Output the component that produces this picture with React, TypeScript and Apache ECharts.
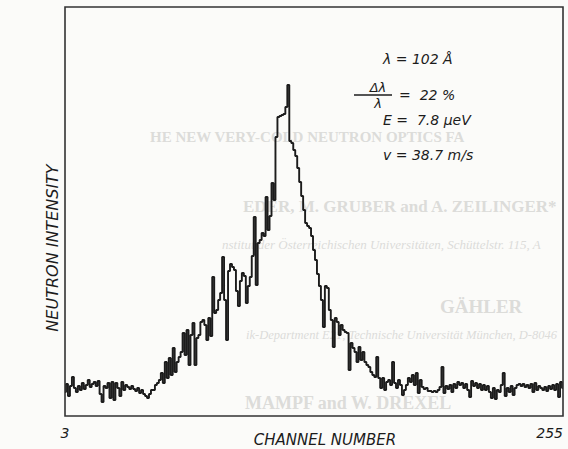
import React, { useEffect, useRef } from "react";
import * as echarts from "echarts";

// Channel range (x axis)
const channelStart = 3;
const channelEnd = 255;
const xTickLabels = ["3", "255"];
const xAxisTitle = "CHANNEL NUMBER";
const yAxisTitle = "NEUTRON INTENSITY";

// Neutron counts per channel (arbitrary units)
const leftBaseline = [
  24, 32, 20, 30, 39, 28, 24, 30, 26, 33, 27, 31, 36, 29, 32, 34, 30, 35, 22, 14,
  30, 28, 33, 18, 34, 16, 33, 28, 20, 34, 26, 31, 29, 27, 30, 27, 25, 28, 23, 26,
  22, 20, 18, 22, 26,
];
const risingFlank = [
  26, 31, 33, 36, 43, 33, 54, 38, 58, 41, 68, 44, 54, 59, 64, 83, 61, 86, 51, 81,
  93, 51, 78, 81, 94, 96, 91, 76, 98, 80, 139, 103, 106, 116, 123, 159, 116, 76, 145, 152,
  149, 146, 125, 110, 135, 143, 140, 113, 130, 139, 160, 199, 131, 173, 176, 183, 180, 219, 186, 200,
  233, 216,
];
const peakRegion = [
  279, 299, 300, 301, 302, 309, 331, 275, 273, 266, 260, 248, 234, 220, 206, 193, 190, 188, 180, 166,
  156, 142, 130, 116,
];
const fallingFlank = [
  89, 130, 128, 106, 96, 69, 98, 94, 81, 91, 86, 84, 83, 46, 73, 68, 64, 54, 69, 56,
  64, 54, 51, 49, 44, 41, 39, 59, 38,
];
const rightBaseline = [
  28, 38, 26, 34, 36, 31, 54, 33, 28, 36, 31, 21, 26, 31, 38, 34, 41, 31, 43, 23,
  36, 29, 27, 28, 25, 25, 24, 25, 24, 26, 29, 49, 23, 30, 27, 31, 24, 32, 28, 34,
  31, 33, 28, 32, 26, 19, 35, 30, 33, 28, 32, 26, 31, 26, 30, 24, 18, 28, 17, 26,
  24, 31, 43, 20, 28, 24, 30, 21, 28, 31, 32, 30, 32, 29, 31, 28, 32, 24, 33, 26,
  30, 28, 26, 29, 25, 30, 27, 31, 26, 32, 19, 34, 28,
];

// Annotation texts
const annLambda = "λ = 102 Å";
const annDeltaNum = "Δλ";
const annDeltaDen = "λ";
const annDeltaVal = "=  22 %";
const annEnergy = "E =  7.8 μeV";
const annVelocity = "v = 38.7 m/s";

// Faint bleed-through text of the scanned page
const ghostLines = [
  { t: "HE NEW VERY-COLD NEUTRON OPTICS FA", x: 150, y: 138.5, s: 15, w: "bold", i: "normal" },
  { t: "EDER, M. GRUBER and A. ZEILINGER*", x: 243, y: 208, s: 17, w: "bold", i: "normal" },
  { t: "nstitut der Österreichischen Universitäten, Schüttelstr. 115, A", x: 222, y: 246, s: 13, w: "normal", i: "italic" },
  { t: "GÄHLER", x: 440, y: 308, s: 19, w: "bold", i: "normal" },
  { t: "ik-Department E21, Technische Universität München, D-8046", x: 246, y: 337, s: 12.5, w: "normal", i: "italic" },
  { t: "MAMPF and W. DREXEL", x: 245, y: 405, s: 18, w: "bold", i: "normal" },
];

export default function App() {
  const ref = useRef<HTMLDivElement>(null);

  useEffect(() => {
    document.body.style.margin = "0";
    if (!ref.current) return;
    const chart = echarts.init(ref.current, null, { renderer: "svg" });
    const intensity = [...leftBaseline, ...risingFlank, ...peakRegion, ...fallingFlank, ...rightBaseline];
    const data = intensity.map((v, i) => [channelStart + i, v]);
    const font = "DejaVu Sans, sans-serif";
    const ink = "#1c1c1c";

    const ghost = ghostLines.map((g) => ({
      type: "text",
      left: g.x,
      top: g.y - g.s / 2 - 2,
      z: -10,
      silent: true,
      style: {
        text: g.t,
        fill: "#dcdcd9",
        font: `${g.i} ${g.w} ${g.s}px "Liberation Serif", serif`,
      },
    }));

    chart.setOption({
      animation: false,
      backgroundColor: "#fbfbf9",
      grid: {
        left: 65,
        right: 5,
        top: 7,
        bottom: 33,
        outerBoundsMode: "none",
        containLabel: false,
        show: true,
        borderColor: "#333",
        borderWidth: 1.6,
        backgroundColor: "transparent",
        z: 5,
      },
      xAxis: {
        type: "value",
        min: channelStart,
        max: channelEnd,
        interval: channelEnd - channelStart,
        axisLine: { show: false },
        axisTick: { show: false },
        splitLine: { show: false },
        axisLabel: {
          margin: 10,
          fontFamily: font,
          fontStyle: "italic",
          fontSize: 14,
          color: ink,
          alignMinLabel: "center",
          alignMaxLabel: "right",
          formatter: (v: number) => (v === channelStart ? xTickLabels[0] : v === channelEnd ? xTickLabels[1] : ""),
        },
      },
      yAxis: {
        type: "value",
        min: 0,
        max: 409,
        axisLine: { show: false },
        axisTick: { show: false },
        axisLabel: { show: false },
        splitLine: { show: false },
      },
      series: [
        {
          type: "line",
          step: "middle",
          data,
          symbol: "none",
          lineStyle: { color: ink, width: 1.9 },
          z: 3,
        },
      ],
      graphic: [
        ...ghost,
        {
          type: "text",
          x: 325,
          y: 440,
          style: {
            text: xAxisTitle,
            fill: ink,
            font: `italic 15px ${font}`,
            textAlign: "center",
            textVerticalAlign: "middle",
          },
        },
        {
          type: "text",
          x: 52,
          y: 248,
          rotation: Math.PI / 2,
          style: {
            text: yAxisTitle,
            fill: ink,
            font: `italic 16px ${font}`,
            textAlign: "center",
            textVerticalAlign: "middle",
          },
        },
        {
          type: "text",
          left: 383,
          top: 52,
          style: { text: annLambda, fill: ink, font: `italic 14px ${font}` },
        },
        {
          type: "text",
          x: 378,
          y: 87,
          style: { text: annDeltaNum, fill: ink, font: `italic 13px ${font}`, textAlign: "center", textVerticalAlign: "middle" },
        },
        {
          type: "line",
          shape: { x1: 354, y1: 95, x2: 392, y2: 95 },
          style: { stroke: ink, lineWidth: 1.3 },
        },
        {
          type: "text",
          x: 378,
          y: 103,
          style: { text: annDeltaDen, fill: ink, font: `italic 13px ${font}`, textAlign: "center", textVerticalAlign: "middle" },
        },
        {
          type: "text",
          x: 399,
          y: 95,
          style: { text: annDeltaVal, fill: ink, font: `italic 14px ${font}`, textVerticalAlign: "middle" },
        },
        {
          type: "text",
          x: 383,
          y: 120,
          style: { text: annEnergy, fill: ink, font: `italic 14px ${font}`, textVerticalAlign: "middle" },
        },
        {
          type: "text",
          x: 383,
          y: 155,
          style: { text: annVelocity, fill: ink, font: `italic 14px ${font}`, textVerticalAlign: "middle" },
        },
      ],
    });
    return () => chart.dispose();
  }, []);

  return (
    <div
      ref={ref}
      style={{ position: "absolute", left: 0, top: 0, width: 568, height: 449 }}
    />
  );
}
